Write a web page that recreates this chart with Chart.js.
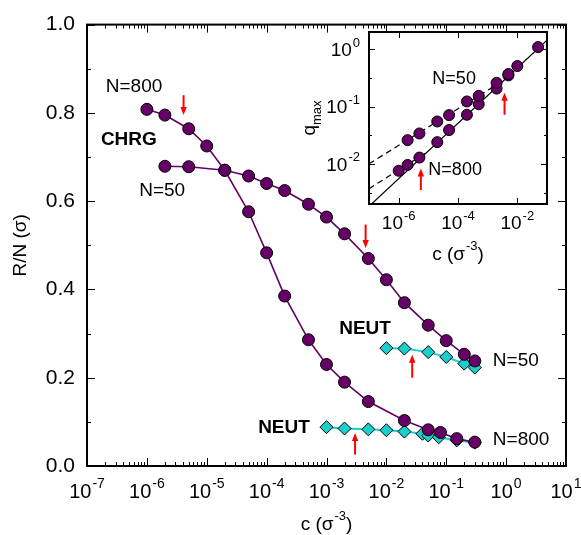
<!DOCTYPE html>
<html>
<head>
<meta charset="utf-8">
<script src="https://cdn.jsdelivr.net/npm/chart.js@4/dist/chart.umd.min.js"></script>
<style>
  body { margin: 0; background: #fff; }
  #wrap { position: relative; width: 581px; height: 535px; }
  #wrap canvas { position: absolute; }
</style>
</head>
<body>
<div id="wrap">
  <canvas id="main" width="581" height="535" style="left:0;top:0"></canvas>
  <canvas id="inset" width="272" height="250" style="left:289px;top:20px"></canvas>
</div>
<script>
const family = '"Liberation Sans", Arial, Helvetica, sans-serif';
const purple = '#660066';
const cyan = '#1ccfcf';

// ---- main panel data: c (sigma^-3) and R/N (sigma)
const c800 = [1e-6, 2e-6, 5e-6, 1e-5, 2e-5, 5e-5, 1e-4, 2e-4, 5e-4, 1e-3, 2e-3, 5e-3, 0.02, 0.05, 0.08, 0.15, 0.3];
const chrg800 = [0.808, 0.795, 0.764, 0.725, 0.670, 0.576, 0.483, 0.385, 0.286, 0.230, 0.190, 0.146, 0.103, 0.082, 0.076, 0.062, 0.054];
const c50 = [2e-6, 5e-6, 2e-5, 5e-5, 1e-4, 2e-4, 5e-4, 1e-3, 2e-3, 5e-3, 0.01, 0.02, 0.05, 0.1, 0.2, 0.3];
const chrg50 = [0.679, 0.678, 0.670, 0.657, 0.640, 0.624, 0.593, 0.564, 0.526, 0.470, 0.422, 0.370, 0.319, 0.284, 0.253, 0.238];
const cNeut50 = [0.01, 0.02, 0.05, 0.1, 0.2, 0.3];
const neut50 = [0.267, 0.266, 0.258, 0.247, 0.232, 0.223];
const cNeut800 = [1e-3, 2e-3, 5e-3, 0.01, 0.02, 0.04, 0.05, 0.075, 0.15, 0.3];
const neut800 = [0.088, 0.085, 0.083, 0.081, 0.078, 0.073, 0.069, 0.065, 0.058, 0.053];

// ---- inset data: q_max vs c
const qc50 = [2e-6, 5e-6, 2e-5, 5e-5, 2e-4, 5e-4, 2e-3, 5e-3];
const q50 = [0.026, 0.034, 0.055, 0.071, 0.123, 0.154, 0.26, 0.37];
const qc800 = [1e-6, 2e-6, 5e-6, 2e-5, 5e-5, 2e-4, 5e-4, 2e-3, 5e-3, 0.01, 0.05];
const q800 = [0.0076, 0.0096, 0.0129, 0.024, 0.039, 0.072, 0.110, 0.206, 0.35, 0.51, 1.09];
// power-law guide lines (end points)
const fitC = [1e-7, 0.1], fitQ = [0.00182, 1.44];
const dash50C = [1e-7, 3.5e-3], dash50Q = [0.01005, 0.287];
const dash800C = [1e-7, 8.7e-6], dash800Q = [0.0037, 0.0158];

// ---- ticks
const mainXMajor = [1e-7, 1e-6, 1e-5, 1e-4, 1e-3, 1e-2, 1e-1, 1, 10];
const mainXMinor = [];
for (let e = -7; e < 1; e++) for (let k = 2; k <= 9; k++) mainXMinor.push(k * Math.pow(10, e));
const mainYMajor = [0, 0.2, 0.4, 0.6, 0.8, 1.0];
const mainYMinor = [0.1, 0.3, 0.5, 0.7, 0.9];
const insetXMajor = [1e-6, 1e-4, 1e-2];
const insetYMajor = [1, 0.1, 0.01];
const insetYMinor = [Math.pow(10, -0.5), Math.pow(10, -1.5), Math.pow(10, -2.5)];

// ---- annotations
const mainArrows = [
  { c: 4.1e-6, from: 0.84, to: 0.795 },
  { c: 4.5e-3, from: 0.547, to: 0.494 },
  { c: 0.027, from: 0.200, to: 0.252 },
  { c: 3.0e-3, from: 0.026, to: 0.075 }
];
const insetArrows = [
  { c: 5.6e-6, from: 0.0035, to: 0.0083 },
  { c: 3.7e-3, from: 0.072, to: 0.175 }
];
const mainTexts = [
  { text: 'N=800', c: 6.1e-7, v: 0.859 },
  { text: 'CHRG', c: 5.0e-7, v: 0.740, bold: true },
  { text: 'N=50', c: 1.8e-6, v: 0.623 },
  { text: 'NEUT', c: 4.4e-3, v: 0.311, bold: true },
  { text: 'N=50', c: 0.6, v: 0.239, align: 'left' },
  { text: 'NEUT', c: 1.95e-4, v: 0.087, bold: true },
  { text: 'N=800', c: 0.6, v: 0.059, align: 'left' }
];
const insetTexts = [
  { text: 'N=50', c: 7.4e-5, v: 0.297 },
  { text: 'N=800', c: 8e-5, v: 0.0079 }
];

function pts(xs, ys) { return xs.map((x, i) => ({ x: x, y: ys[i] })); }

// "10" with a raised exponent
function powLabel(ctx, x, y, exp, size, align) {
  const sup = Math.round(size * 0.7);
  ctx.font = size + 'px ' + family;
  const w1 = ctx.measureText('10').width;
  ctx.font = sup + 'px ' + family;
  const w2 = ctx.measureText(exp).width;
  const total = w1 + 1 + w2;
  const left = align === 'right' ? x - total : x - total / 2;
  ctx.textAlign = 'left';
  ctx.textBaseline = 'alphabetic';
  ctx.font = size + 'px ' + family;
  ctx.fillText('10', left, y + size * 0.36);
  ctx.font = sup + 'px ' + family;
  ctx.fillText(exp, left + w1 + 1, y - size * 0.13);
}

// "c (σ^-3)"
function concTitle(ctx, x, y, size) {
  const sup = Math.round(size * 0.7);
  ctx.font = size + 'px ' + family;
  const a = ctx.measureText('c (σ').width, c = ctx.measureText(')').width;
  ctx.font = sup + 'px ' + family;
  const b = ctx.measureText('-3').width;
  let left = x - (a + b + c + 1) / 2;
  ctx.textAlign = 'left';
  ctx.textBaseline = 'alphabetic';
  ctx.font = size + 'px ' + family;
  ctx.fillText('c (σ', left, y + size * 0.36);
  ctx.font = sup + 'px ' + family;
  ctx.fillText('-3', left + a + 1, y - size * 0.15);
  ctx.font = size + 'px ' + family;
  ctx.fillText(')', left + a + b + 1, y + size * 0.36);
}

function drawArrow(ctx, x, y0, y1) {
  const dir = y1 > y0 ? 1 : -1;
  ctx.save();
  ctx.strokeStyle = '#ff0000';
  ctx.fillStyle = '#ff0000';
  ctx.lineWidth = 2;
  ctx.beginPath();
  ctx.moveTo(x, y0);
  ctx.lineTo(x, y1 - dir * 6);
  ctx.stroke();
  ctx.beginPath();
  ctx.moveTo(x, y1);
  ctx.lineTo(x - 3.2, y1 - dir * 8);
  ctx.lineTo(x + 3.2, y1 - dir * 8);
  ctx.closePath();
  ctx.fill();
  ctx.restore();
}

// frame, inward ticks, labels and arrows drawn from the chart's own scales
function frameTicks(cfg) {
  return {
    id: 'frameTicks',
    beforeDraw(chart) {
      const { ctx, chartArea: a } = chart;
      ctx.save();
      ctx.fillStyle = '#fff';
      if (cfg.fillAll) ctx.fillRect(0, 0, chart.width, chart.height);
      else ctx.fillRect(a.left, a.top, a.right - a.left, a.bottom - a.top);
      ctx.restore();
    },
    beforeDatasetsDraw(chart) {
      const { ctx, chartArea: a, scales: { x, y } } = chart;
      ctx.save();
      ctx.strokeStyle = '#000';
      ctx.lineWidth = 1;
      const tx = (v, len) => {
        const p = Math.round(x.getPixelForValue(v)) + 0.5;
        ctx.beginPath();
        ctx.moveTo(p, a.bottom); ctx.lineTo(p, a.bottom - len);
        ctx.moveTo(p, a.top); ctx.lineTo(p, a.top + len);
        ctx.stroke();
      };
      const ty = (v, len) => {
        const p = Math.round(y.getPixelForValue(v)) + 0.5;
        ctx.beginPath();
        ctx.moveTo(a.left, p); ctx.lineTo(a.left + len, p);
        ctx.moveTo(a.right, p); ctx.lineTo(a.right - len, p);
        ctx.stroke();
      };
      cfg.xMajor.forEach(v => tx(v, cfg.major));
      (cfg.xMinor || []).forEach(v => tx(v, cfg.minor));
      cfg.yMajor.forEach(v => ty(v, cfg.major));
      (cfg.yMinor || []).forEach(v => ty(v, cfg.minor));
      ctx.lineWidth = 2;
      ctx.strokeRect(a.left, a.top, a.right - a.left, a.bottom - a.top);
      ctx.fillStyle = '#000';
      // x tick labels: powers of ten
      cfg.xMajor.forEach(v => {
        powLabel(ctx, x.getPixelForValue(v), a.bottom + cfg.xLabelOff, String(Math.round(Math.log10(v))), cfg.tickSize, 'center');
      });
      if (cfg.yLog) {
        cfg.yMajor.forEach(v => {
          powLabel(ctx, a.left - 9, y.getPixelForValue(v), String(Math.round(Math.log10(v))), cfg.tickSize, 'right');
        });
      }
      concTitle(ctx, (a.left + a.right) / 2, a.bottom + cfg.xTitleOff, cfg.titleSize);
      if (cfg.yLog) {
        // q_max, rotated
        ctx.save();
        ctx.translate(a.left - cfg.yTitleOff, (a.top + a.bottom) / 2);
        ctx.rotate(-Math.PI / 2);
        ctx.font = cfg.titleSize + 'px ' + family;
        const wq = ctx.measureText('q').width;
        ctx.font = Math.round(cfg.titleSize * 0.7) + 'px ' + family;
        const wm = ctx.measureText('max').width;
        const l = -(wq + wm) / 2;
        ctx.textAlign = 'left';
        ctx.textBaseline = 'middle';
        ctx.font = cfg.titleSize + 'px ' + family;
        ctx.fillText('q', l, -2);
        ctx.font = Math.round(cfg.titleSize * 0.7) + 'px ' + family;
        ctx.fillText('max', l + wq, 5);
        ctx.restore();
      }
      ctx.restore();
    },
    afterDatasetsDraw(chart) {
      const { ctx, scales: { x, y } } = chart;
      cfg.arrows.forEach(ar => {
        drawArrow(ctx, x.getPixelForValue(ar.c), y.getPixelForValue(ar.from), y.getPixelForValue(ar.to));
      });
      ctx.save();
      ctx.fillStyle = '#000';
      ctx.textBaseline = 'middle';
      cfg.texts.forEach(t => {
        ctx.font = (t.bold ? 'bold ' : '') + cfg.textSize + 'px ' + family;
        ctx.textAlign = t.align || 'center';
        ctx.fillText(t.text, x.getPixelForValue(t.c), y.getPixelForValue(t.v));
      });
      ctx.restore();
    }
  };
}

const circle = {
  pointStyle: 'circle', pointRadius: 6, pointHoverRadius: 6,
  pointBackgroundColor: purple, pointBorderColor: '#000', pointBorderWidth: 1,
  borderColor: purple, borderWidth: 1.6, tension: 0, order: 0
};
const diamond = {
  pointStyle: 'rectRot', pointRadius: 6.5, pointHoverRadius: 6.5,
  pointBackgroundColor: cyan, pointBorderColor: '#000', pointBorderWidth: 1,
  borderColor: cyan, borderWidth: 2, tension: 0, order: 1
};

new Chart(document.getElementById('main').getContext('2d'), {
  type: 'line',
  data: {
    datasets: [
      Object.assign({ label: 'CHRG N=800', data: pts(c800, chrg800) }, circle),
      Object.assign({ label: 'CHRG N=50', data: pts(c50, chrg50) }, circle),
      Object.assign({ label: 'NEUT N=50', data: pts(cNeut50, neut50) }, diamond),
      Object.assign({ label: 'NEUT N=800', data: pts(cNeut800, neut800) }, diamond)
    ]
  },
  options: {
    responsive: false,
    animation: false,
    layout: { padding: { top: 13, right: 15, left: 0, bottom: 0 } },
    plugins: { legend: { display: false }, tooltip: { enabled: false } },
    scales: {
      x: {
        type: 'logarithmic', min: 1e-7, max: 10,
        grid: { display: false, drawTicks: false }, border: { display: false },
        ticks: { display: false },
        afterFit: s => { s.height = 69; }
      },
      y: {
        min: 0, max: 1,
        grid: { display: false, drawTicks: false }, border: { display: false },
        ticks: { stepSize: 0.2, padding: 12, color: '#000', font: { size: 21, family: family }, callback: v => v.toFixed(1) },
        title: { display: true, text: 'R/N (σ)', color: '#000', font: { size: 19, family: family }, padding: { top: 9, bottom: 0 } },
        afterFit: s => { s.width = 87; }
      }
    }
  },
  plugins: [frameTicks({
    fillAll: true, xMajor: mainXMajor, xMinor: mainXMinor, yMajor: mainYMajor, yMinor: mainYMinor,
    major: 8, minor: 4, xLabelOff: 25, xTitleOff: 57, tickSize: 20, titleSize: 19, textSize: 19,
    arrows: mainArrows, texts: mainTexts
  })]
});

const line = { pointRadius: 0, borderColor: '#000', borderWidth: 1.2, tension: 0, order: 1, showLine: true };
const dot = {
  showLine: false, pointStyle: 'circle', pointRadius: 5.5, pointHoverRadius: 5.5,
  pointBackgroundColor: purple, pointBorderColor: '#000', pointBorderWidth: 1, order: 0
};

new Chart(document.getElementById('inset').getContext('2d'), {
  type: 'line',
  data: {
    datasets: [
      Object.assign({ label: 'fit', data: pts(fitC, fitQ) }, line),
      Object.assign({ label: 'fit N=50', data: pts(dash50C, dash50Q), borderDash: [6, 4] }, line),
      Object.assign({ label: 'fit N=800', data: pts(dash800C, dash800Q), borderDash: [6, 4] }, line),
      Object.assign({ label: 'N=50', data: pts(qc50, q50) }, dot),
      Object.assign({ label: 'N=800', data: pts(qc800, q800) }, dot)
    ]
  },
  options: {
    responsive: false,
    animation: false,
    layout: { padding: { top: 12, right: 14, left: 0, bottom: 0 } },
    plugins: { legend: { display: false }, tooltip: { enabled: false } },
    scales: {
      x: {
        type: 'logarithmic', min: 1e-7, max: 0.1,
        grid: { display: false, drawTicks: false }, border: { display: false },
        ticks: { display: false },
        afterFit: s => { s.height = 66; }
      },
      y: {
        type: 'logarithmic', min: 0.002, max: 2,
        grid: { display: false, drawTicks: false }, border: { display: false },
        ticks: { display: false },
        afterFit: s => { s.width = 80; }
      }
    }
  },
  plugins: [frameTicks({
    fillAll: false, yLog: true, xMajor: insetXMajor, yMajor: insetYMajor, yMinor: insetYMinor,
    major: 6, minor: 3, xLabelOff: 18, xTitleOff: 49, yTitleOff: 57, tickSize: 19, titleSize: 19, textSize: 18,
    arrows: insetArrows, texts: insetTexts
  })]
});
</script>
</body>
</html>
